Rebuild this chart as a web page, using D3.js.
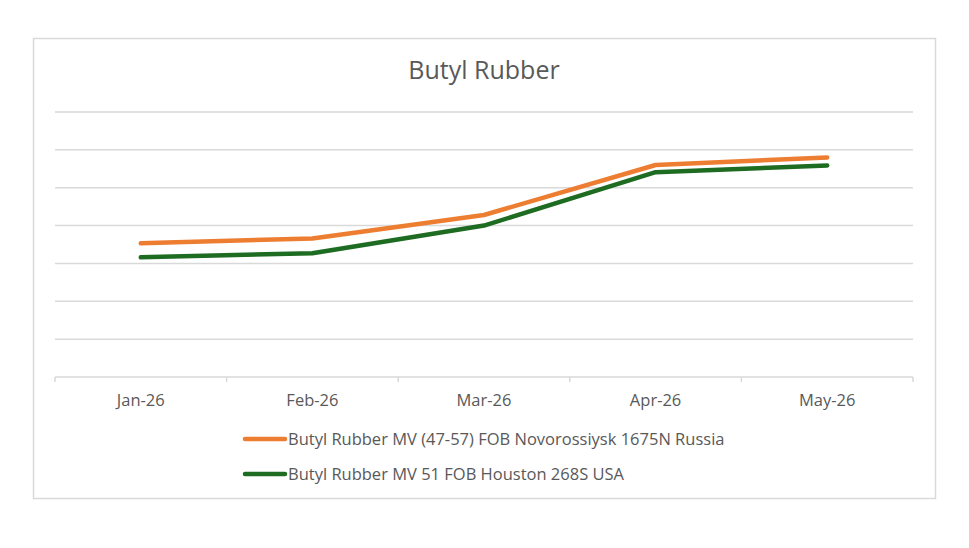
<!DOCTYPE html>
<html>
<head>
<meta charset="utf-8">
<script src="https://cdn.jsdelivr.net/npm/d3@7"></script>
<style>
  body { margin: 0; background: #fff; }
  #chart { width: 969px; height: 548px; }
  text { font-family: "Open Sans", "Liberation Sans", sans-serif; }
</style>
</head>
<body>
<div id="chart"></div>
<script>
// Values (no y-axis labels in the reference; arbitrary units)
const months = ['Jan-26', 'Feb-26', 'Mar-26', 'Apr-26', 'May-26'];
const russiaValues = [1765, 1830, 2140, 2800, 2900];
const usaValues = [1580, 1635, 2000, 2705, 2795];
const gridTicks = [0, 500, 1000, 1500, 2000, 2500, 3000, 3500];
const seriesNames = [
    'Butyl Rubber MV (47-57) FOB Novorossiysk 1675N Russia',
    'Butyl Rubber MV 51 FOB Houston 268S USA'
];
const seriesColors = ['#ED7D31', '#1E6B22'];

const W = 969, H = 548;
const plot = { left: 55, right: 913, top: 112, bottom: 377 };

const svg = d3.select('#chart').append('svg')
    .attr('width', W)
    .attr('height', H);

// Chart frame
svg.append('rect')
    .attr('x', 33.5).attr('y', 38.5)
    .attr('width', 902).attr('height', 460)
    .attr('fill', '#fff')
    .attr('stroke', '#d9d9d9')
    .attr('stroke-width', 1.5);

svg.append('text')
    .attr('x', (plot.left + plot.right) / 2)
    .attr('y', 79)
    .attr('text-anchor', 'middle')
    .style('fill', '#595959')
    .style('font-size', '25px')
    .text('Butyl Rubber');

const x = d3.scaleBand()
    .domain(months)
    .range([plot.left, plot.right]);

const y = d3.scaleLinear()
    .domain([0, 3500])
    .range([plot.bottom, plot.top]);

// Horizontal gridlines
svg.append('g')
    .selectAll('line')
    .data(gridTicks.slice(1))
    .enter()
    .append('line')
    .attr('x1', plot.left)
    .attr('x2', plot.right)
    .attr('y1', d => y(d))
    .attr('y2', d => y(d))
    .attr('stroke', '#d9d9d9')
    .attr('stroke-width', 1.5);

// X axis with category boundary ticks
const xAxis = svg.append('g')
    .attr('transform', `translate(0,${plot.bottom})`);

xAxis.append('line')
    .attr('x1', plot.left).attr('x2', plot.right)
    .attr('stroke', '#d9d9d9')
    .attr('stroke-width', 1.5);

const boundaries = months.map(m => x(m)).concat([plot.right]);
xAxis.selectAll('.tick-mark')
    .data(boundaries)
    .enter()
    .append('line')
    .attr('class', 'tick-mark')
    .attr('x1', d => d).attr('x2', d => d)
    .attr('y1', 0).attr('y2', 5)
    .attr('stroke', '#d9d9d9')
    .attr('stroke-width', 1.5);

xAxis.selectAll('.tick-label')
    .data(months)
    .enter()
    .append('text')
    .attr('class', 'tick-label')
    .attr('x', d => x(d) + x.bandwidth() / 2)
    .attr('y', 29)
    .attr('text-anchor', 'middle')
    .style('fill', '#595959')
    .style('font-size', '16.5px')
    .text(d => d);

// Lines
const line = d3.line()
    .x((d, i) => x(months[i]) + x.bandwidth() / 2)
    .y(d => y(d));

[russiaValues, usaValues].forEach((vals, i) => {
    svg.append('path')
        .datum(vals)
        .attr('fill', 'none')
        .attr('stroke', seriesColors[i])
        .attr('stroke-width', 4.5)
        .attr('stroke-linecap', 'round')
        .attr('stroke-linejoin', 'round')
        .attr('d', line);
});

// Legend
const legend = svg.append('g');
seriesNames.forEach((name, i) => {
    const ly = 439 + i * 35;
    legend.append('line')
        .attr('x1', 245).attr('x2', 285)
        .attr('y1', ly).attr('y2', ly)
        .attr('stroke', seriesColors[i])
        .attr('stroke-width', 4.5)
        .attr('stroke-linecap', 'round');
    legend.append('text')
        .attr('x', 288)
        .attr('y', ly)
        .attr('dy', '0.35em')
        .style('fill', '#595959')
        .style('font-size', '16.5px')
        .text(name);
});
</script>
</body>
</html>
